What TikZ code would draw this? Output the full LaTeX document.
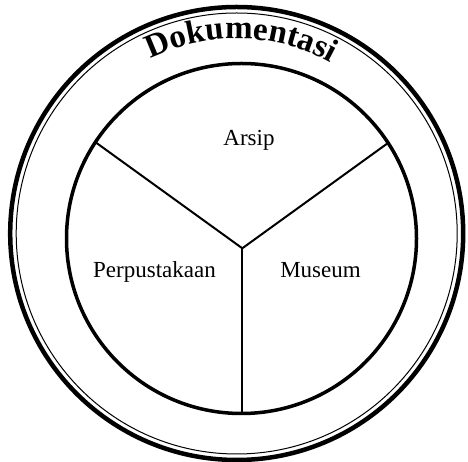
\documentclass[tikz,border=0pt]{standalone}
\usepackage{fontspec}
\setmainfont{Liberation Serif}
\newfontfamily\dokfam{Liberation Serif}
\usetikzlibrary{decorations.text,calc}
\newcommand\dokfont{\dokfam\bfseries\fontsize{33}{40}\selectfont}
\begin{document}
\begin{tikzpicture}[x=1pt,y=1pt,
  label/.style={font=\fontsize{23}{27}\selectfont, anchor=base, inner sep=0pt},
  divider/.style={line width=2pt}]
\useasboundingbox (0,0) rectangle (468,462);
\fill[white] (0,0) rectangle (468,462);
\coordinate (oc) at (236.7,228.5);
\coordinate (ic) at (241.5,223.5);
% outer double ring
\draw[line width=4.5pt] (oc) circle[radius=226.5];
\draw[line width=1pt] (oc) circle[radius=220.5];
% inner circle
\draw[line width=3.5pt] (ic) circle[radius=175];
% dividers
\coordinate (j) at (242.3,213.7);
\coordinate (pl) at ($(ic)+(146.6:175)$);
\coordinate (pr) at ($(ic)+(33.1:175)$);
\coordinate (pb) at (242.3,50);
\draw[divider] (j) -- (pl);
\draw[divider] (j) -- (pr);
\draw[divider] (j) -- (pb);
% labels
\node[label] (arsip) at (249,316) {Arsip};
\node[label] (perp) at (154.5,184) {Perpustakaan};
\node[label] (mus) at (320.5,184) {Museum};
% curved title
\path[decorate, decoration={text along path, text={|\dokfont|Dokumentasi}, text align=center}]
  (oc) ++(123.6:195) arc[start angle=123.6, end angle=53.6, radius=195];
\end{tikzpicture}
\end{document}
